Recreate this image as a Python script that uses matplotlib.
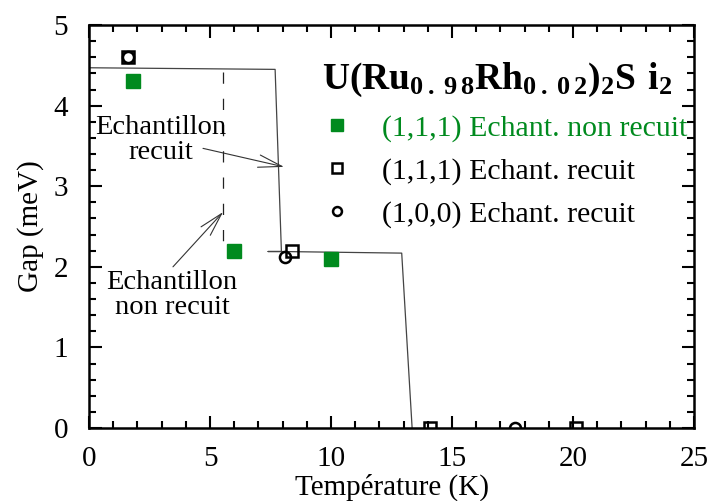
import matplotlib
matplotlib.use("Agg")
import matplotlib.pyplot as plt
from matplotlib.ticker import MultipleLocator

plt.rcParams['font.family'] = ['Liberation Serif', 'DejaVu Serif']
plt.rcParams['mathtext.fontset'] = 'custom'
plt.rcParams['mathtext.rm'] = 'Liberation Serif'
plt.rcParams['mathtext.bf'] = 'Liberation Serif:bold'

vert = '#008a1e'

# (1,1,1) echantillon non recuit
t_nr = [1.8, 6.0, 10.0]
gap_nr = [4.3, 2.2, 2.1]
# (1,1,1) echantillon recuit
t_r111 = [1.6, 8.4, 14.1, 20.1]
gap_r111 = [4.6, 2.2, 0.0, 0.0]
# (1,0,0) echantillon recuit
t_r100 = [1.6, 8.1, 17.6]
gap_r100 = [4.6, 2.12, 0.0]

# guides pour les yeux
t_guide_r = [0, 7.69, 7.95, 7.4, 7.95, 12.92, 13.35]
gap_guide_r = [4.47, 4.45, 2.19, 2.19, 2.19, 2.17, 0.0]
t_guide_nr = [5.52, 5.52, 6.5]
gap_guide_nr = [4.42, 2.19, 2.19]

fig = plt.figure(figsize=(7.09, 5.01), dpi=100)
ax = fig.add_axes([0.1255, 0.1457, 0.8535, 0.8043])

ax.plot(t_guide_r, gap_guide_r, color='#444444', lw=0.9)
ax.plot(t_guide_nr, gap_guide_nr, color='#222222', lw=0.9, dashes=(9, 12))

ax.plot(t_nr, gap_nr, 's', color=vert, ms=10, mec=vert,
        label='(1,1,1) Echant. non recuit')
ax.plot(t_r111, gap_r111, 's', mfc='none', mec='black', ms=9, mew=1.8,
        label='(1,1,1) Echant. recuit')
ax.plot(t_r100, gap_r100, 'o', mfc='none', mec='black', ms=8, mew=1.8,
        label='(1,0,0) Echant. recuit')

fleche = dict(arrowstyle='->,head_length=1.7,head_width=0.45',
              color='#333333', lw=0.8, shrinkA=0, shrinkB=0)
ax.text(2.98, 3.57, 'Echantillon\nrecuit', ha='center', va='center',
        fontsize=20.5, linespacing=0.98)
ax.annotate('', xy=(8.06, 3.24), xytext=(4.71, 3.47), arrowprops=fleche)
ax.text(3.43, 1.65, 'Echantillon\nnon recuit', ha='center', va='center',
        fontsize=20.5, linespacing=0.98)
ax.annotate('', xy=(5.54, 2.68), xytext=(3.47, 2.0), arrowprops=fleche)

leg = ax.legend(loc='upper left', bbox_to_anchor=(0.366, 0.94), frameon=False,
                fontsize=21.5, handlelength=1.0, handletextpad=1.0,
                labelspacing=0.52, borderaxespad=0,
                title=r'$\mathbf{U(Ru_{0\,.\,9\,8}Rh_{0\,.\,0\,2})_2S\ i_2}$',
                title_fontsize=27, markerscale=0.8)
leg._legend_box.align = 'left'
leg.get_texts()[0].set_color(vert)

ax.set_xlim(0, 25)
ax.set_ylim(0, 5)
ax.xaxis.set_major_locator(MultipleLocator(5))
ax.xaxis.set_minor_locator(MultipleLocator(1))
ax.yaxis.set_major_locator(MultipleLocator(1))
ax.yaxis.set_minor_locator(MultipleLocator(0.2))
ax.tick_params(which='both', direction='in', top=True, right=True,
               width=1.5, labelsize=21)
ax.tick_params(axis='x', pad=13)
ax.tick_params(axis='y', pad=15)
ax.tick_params(which='major', length=9)
ax.tick_params(which='minor', length=5)
for s in ax.spines.values():
    s.set_linewidth(1.8)

ax.set_xlabel('Température (K)', fontsize=21, labelpad=1)
ax.set_ylabel('Gap (meV)', fontsize=21, labelpad=7)

fig.savefig('out.png', dpi=100)
